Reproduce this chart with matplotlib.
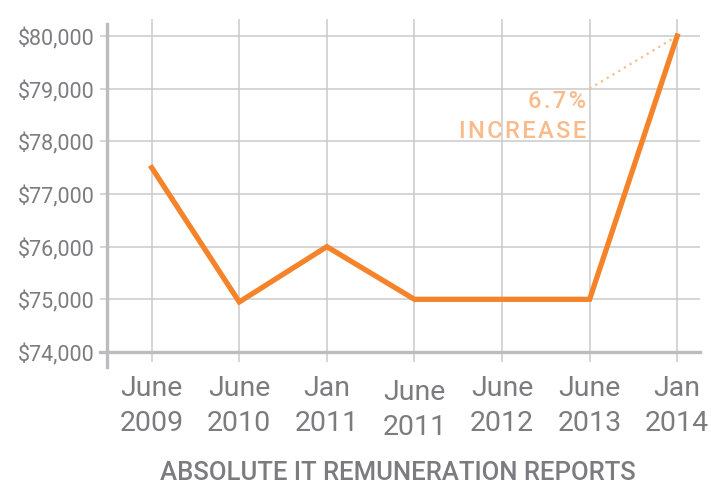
import matplotlib.pyplot as plt
from matplotlib.lines import Line2D

plt.rcParams['font.family'] = ['Roboto', 'DejaVu Sans']

periods = ['June\n2009', 'June\n2010', 'Jan\n2011', 'June\n2011', 'June\n2012', 'June\n2013', 'Jan\n2014']
salary = [77500, 74950, 76000, 75000, 75000, 75000, 80000]
yticks = [74000, 75000, 76000, 77000, 78000, 79000, 80000]
ylabels = ['$74,000', '$75,000', '$76,000', '$77,000', '$78,000', '$79,000', '$80,000']

orange = '#f5832a'
light_orange = '#f9bb8c'
grid_c = '#cacacd'
spine_c = '#bcbcc0'
text_c = '#7c7c80'


def spaced(s):
    return '\u200a'.join(s)


fig = plt.figure(figsize=(7.11, 4.85), dpi=100)
ax = fig.add_axes([0.1505, 0.2722, 0.834, 0.6866])

x = list(range(len(periods)))
ax.plot(x, salary, color=orange, lw=3.8, solid_joinstyle='miter', zorder=5)

ax.set_xlim(-0.51, 6.26)
ax.set_ylim(74000, 80323)
ax.set_xticks(x)
ax.set_xticklabels(periods, fontsize=20.5, color=text_c, linespacing=1.38)
ax.set_yticks(yticks)
ax.set_yticklabels(ylabels, fontsize=15.5, color=text_c)
ax.tick_params(axis='x', length=7.2, width=1.1, color=grid_c, pad=9)
ax.tick_params(axis='y', length=5, width=1.1, color=grid_c, pad=4)
ax.grid(True, color=grid_c, lw=1.1, zorder=0)
ax.set_axisbelow(True)
for s in ax.spines.values():
    s.set_visible(False)

# June 2011 label sits a little lower in the original
lbl = ax.get_xticklabels()[3]
lbl.set_y(-0.012)

# axis lines that run past the plot box
ax.add_line(Line2D([-0.012, 1.0], [0, 0], transform=ax.transAxes, color=spine_c,
                   lw=2.4, clip_on=False, zorder=3))
ax.add_line(Line2D([0, 0], [-0.045, 0.985], transform=ax.transAxes, color=spine_c,
                   lw=2.4, clip_on=False, zorder=3))

# 6.7% increase note
ax.plot([5, 6], [79000, 80000], color=light_orange, lw=1.6, ls=(0, (1, 2)), zorder=4)
ax.text(4.96, 78990, spaced('6.7%'), ha='right', va='top', fontsize=17, color=light_orange,
        fontweight='medium')
ax.text(4.96, 78420, spaced('INCREASE'), ha='right', va='top',
        fontsize=17, color=light_orange, fontweight='medium')

fig.text(0.559, 0.0103, 'ABSOLUTE IT REMUNERATION REPORTS', ha='center', va='baseline',
         fontsize=18.5, color=text_c, fontweight='medium')

fig.savefig('out.png', dpi=100)
